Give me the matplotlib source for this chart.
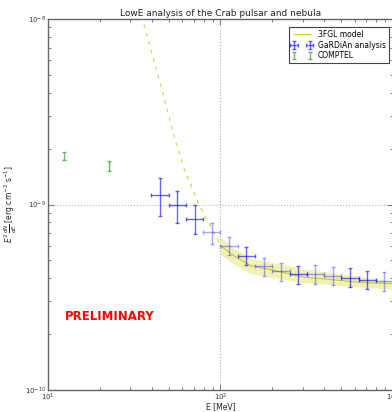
import matplotlib
matplotlib.use("Agg")
import matplotlib.pyplot as plt
import numpy as np
from matplotlib.ticker import LogLocator

# ---- data ----
# GaRDiAn analysis (bin centers, bin edges, flux, flux errors)
gard_E = [44.7, 56.2, 70.8, 89.1, 112.2, 141.3, 177.8, 223.9, 281.8, 354.8, 446.7, 562.3, 707.9, 891.3]
gard_Elo = [39.8, 50.1, 63.1, 79.4, 100.0, 125.9, 158.5, 199.5, 251.2, 316.2, 398.1, 501.2, 631.0, 794.3]
gard_Ehi = [50.1, 63.1, 79.4, 100.0, 125.9, 158.5, 199.5, 251.2, 316.2, 398.1, 501.2, 631.0, 794.3, 1000.0]
gard_F = [1.13e-9, 0.99e-9, 0.837e-9, 0.708e-9, 0.600e-9, 0.526e-9, 0.468e-9, 0.438e-9, 0.421e-9, 0.421e-9, 0.413e-9, 0.404e-9, 0.392e-9, 0.385e-9]
gard_Fhi = [1.39e-9, 1.18e-9, 0.989e-9, 0.792e-9, 0.665e-9, 0.588e-9, 0.515e-9, 0.484e-9, 0.468e-9, 0.472e-9, 0.462e-9, 0.455e-9, 0.440e-9, 0.434e-9]
gard_Flo = [0.87e-9, 0.79e-9, 0.695e-9, 0.614e-9, 0.534e-9, 0.472e-9, 0.413e-9, 0.385e-9, 0.373e-9, 0.373e-9, 0.368e-9, 0.361e-9, 0.350e-9, 0.343e-9]
gard_faint = [False, False, False, True, True, False, True, True, False, True, True, False, False, True]

# COMPTEL
comp_E = [12.4, 22.5]
comp_F = [1.83e-9, 1.615e-9]
comp_Fhi = [1.918e-9, 1.714e-9]
comp_Flo = [1.746e-9, 1.52e-9]

# 3FGL model: extrapolation below 100 MeV (dashed) and fitted range with band
model_ext_E = [31.6, 35.3, 44.7, 54.7, 62.0, 75.5, 89.1, 100.0]
model_ext_F = [1.48e-8, 1.0e-8, 4.50e-9, 2.22e-9, 1.53e-9, 9.89e-10, 7.41e-10, 6.0e-10]
model_E = [100, 120, 150, 200, 300, 450, 600, 800, 1000]
model_F = [6.0e-10, 5.28e-10, 4.68e-10, 4.43e-10, 4.07e-10, 3.93e-10, 3.83e-10, 3.77e-10, 3.74e-10]
model_Fhi = [6.64e-10, 5.80e-10, 5.11e-10, 4.88e-10, 4.51e-10, 4.29e-10, 4.13e-10, 3.97e-10, 3.88e-10]
model_Flo = [5.37e-10, 4.76e-10, 4.24e-10, 4.04e-10, 3.79e-10, 3.69e-10, 3.60e-10, 3.54e-10, 3.49e-10]

# ---- figure ----
fig = plt.figure(figsize=(3.92, 4.12), dpi=100)
ax = fig.add_axes([48/392, 22/412, 345/392, 371/412])
ax.set_xscale("log")
ax.set_yscale("log")
ax.set_xlim(10, 1000)
ax.set_ylim(1e-10, 1e-8)

ycol = "#d2d240"
ax.fill_between(model_E, model_Flo, model_Fhi, color="#e6e67a", alpha=0.55, lw=0, zorder=2)
ax.plot(model_E, model_F, color="#c8c830", alpha=0.9, lw=0.9, zorder=3, label="3FGL model")
ax.plot(model_ext_E, model_ext_F, color=ycol, alpha=0.9, lw=0.9, ls=(0, (3, 4)), zorder=3)

gE = np.array(gard_E); gF = np.array(gard_F)
xerr = np.array([gE - np.array(gard_Elo), np.array(gard_Ehi) - gE])
yerr = np.array([gF - np.array(gard_Flo), np.array(gard_Fhi) - gF])
first = True
for i in range(len(gE)):
    a = 0.35 if gard_faint[i] else 0.6
    ax.errorbar([gE[i]], [gF[i]], xerr=xerr[:, i:i+1], yerr=yerr[:, i:i+1],
                fmt="none", ecolor="blue", alpha=a, elinewidth=1.0, capsize=1.5,
                capthick=1.0, zorder=4, label="GaRDiAn analysis" if first else None)
    first = False

cE = np.array(comp_E); cF = np.array(comp_F)
cerr = np.array([cF - np.array(comp_Flo), np.array(comp_Fhi) - cF])
ax.errorbar(cE, cF, yerr=cerr, fmt="none", ecolor="#2ca02c", alpha=0.7,
            elinewidth=1.0, capsize=1.5, capthick=1.0, zorder=4, label="COMPTEL")

ax.grid(True, which="major", color="#b0b0b0", ls=":", lw=0.8)

for s in ax.spines.values():
    s.set_color("#666666")
    s.set_linewidth(1.0)
ax.tick_params(which="both", direction="in", top=True, right=True,
               colors="#666666", labelcolor="#333333", labelsize=5, pad=1.5)
ax.tick_params(which="major", length=4, width=0.6)
ax.tick_params(which="minor", length=2, width=0.6)
ax.xaxis.set_minor_locator(LogLocator(base=10, subs=np.arange(2, 10)))
ax.yaxis.set_minor_locator(LogLocator(base=10, subs=np.arange(2, 10)))

ax.set_title("LowE analysis of the Crab pulsar and nebula", fontsize=6.5, pad=2, color="#222222")
ax.set_xlabel("E [MeV]", fontsize=5.5, color="#222222")
ax.xaxis.set_label_coords(0.5, -0.034)
ax.set_ylabel(r"$E^2\,\frac{dN}{dE}\;[\mathrm{erg\ cm^{-2}\ s^{-1}}]$", fontsize=5.5, color="#222222")
ax.yaxis.set_label_coords(-0.085, 0.5)

ax.text(12.6, 2.48e-10, "PRELIMINARY", color="red", fontsize=8.5, fontweight="bold",
        va="center", ha="left")

leg = ax.legend(loc="upper right", fontsize=5.5, numpoints=2, fancybox=False,
                framealpha=1, edgecolor="#444444",
                bbox_to_anchor=(389/392, 1 - 27/412), bbox_transform=fig.transFigure,
                borderaxespad=0, handlelength=2.6, labelspacing=0.2, borderpad=0.4)
leg.get_frame().set_linewidth(0.8)

fig.savefig("out.png", dpi=100)
